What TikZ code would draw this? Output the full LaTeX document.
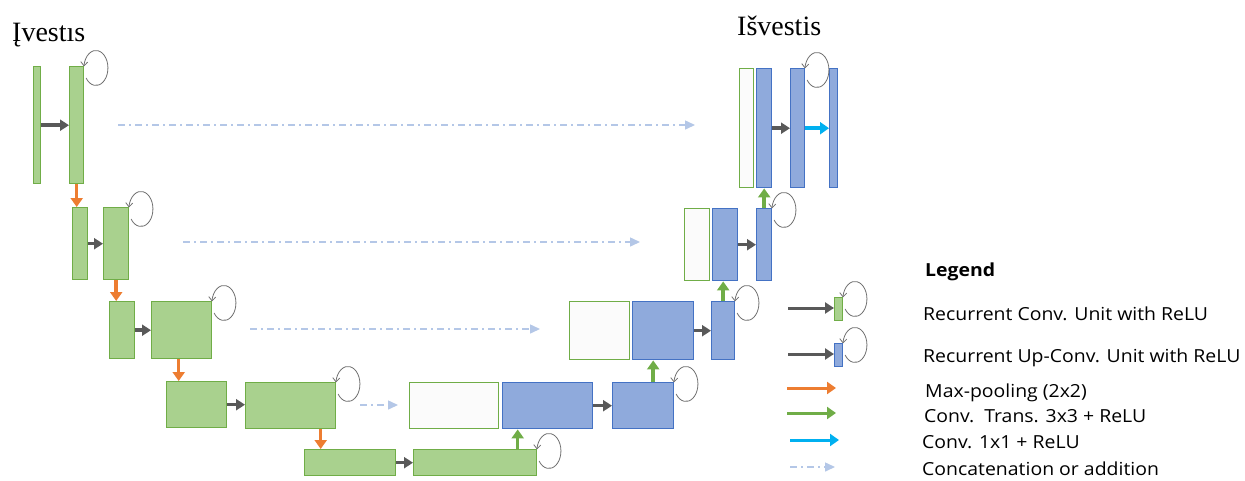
\documentclass[tikz,border=0pt]{standalone}
\usepackage{fontspec}
\setmainfont{Liberation Serif}
\newfontfamily\legfont[FakeStretch=1.08]{Open Sans}
\usetikzlibrary{arrows.meta}

\definecolor{encfill}{HTML}{A9D18E}
\definecolor{encline}{HTML}{70AD47}
\definecolor{decfill}{HTML}{8FAADC}
\definecolor{decline}{HTML}{4472C4}
\definecolor{copyfill}{HTML}{FBFBFB}
\definecolor{poolc}{HTML}{ED7D31}
\definecolor{upc}{HTML}{70AD47}
\definecolor{onec}{HTML}{00B0F0}
\definecolor{convc}{HTML}{595959}
\definecolor{skipc}{HTML}{B4C7E7}
\definecolor{loopc}{HTML}{6F6F6F}

\tikzset{
  box/.style={draw, line width=1.4pt, inner sep=0pt, anchor=north west},
  enc/.style={box, fill=encfill, draw=encline},
  dec/.style={box, fill=decfill, draw=decline},
  copyb/.style={box, fill=copyfill, draw=encline},
  conv/.style={draw=convc, line width=3.5pt, -{Triangle[length=9pt,width=11pt]}},
  pool/.style={draw=poolc, line width=3.5pt, -{Triangle[length=9pt,width=12pt]}},
  upconv/.style={draw=upc, line width=3.5pt, -{Triangle[length=9pt,width=12pt]}},
  onebyone/.style={draw=onec, line width=3.5pt, -{Triangle[length=9pt,width=12pt]}},
  skip/.style={draw=skipc, line width=1.5pt, dash pattern=on 7pt off 4pt on 2pt off 4pt,
    -{Triangle[length=10pt,width=9pt]}},
  rloop/.style={draw=loopc, line width=0.8pt, -{Straight Barb[length=4pt,width=7pt]}},
  title/.style={anchor=base west, inner sep=0pt, font=\fontsize{28pt}{32pt}\selectfont},
  legtxt/.style={anchor=base west, inner sep=0pt, font=\legfont\fontsize{18pt}{21pt}\selectfont},
}

% recurrent self-loop at the top right corner of a block
\newcommand\selfloop[1]{%
  \draw[rloop] ([shift={(1.7pt,-12pt)}]#1.north east)
    arc[start angle=215, end angle=535, x radius=12pt, y radius=17.5pt];}

\begin{document}
\begin{tikzpicture}[x=1pt, y=1pt]
\useasboundingbox (0,0) rectangle (1245,-480);

% titles
\node[title] (inlab) at (12,-41) {Įvestıs};
\node[title] (outlab) at (737,-35) {Išvestis};

% encoder blocks
\node[enc, minimum width=7pt,   minimum height=117pt] (e1a) at (33,-66) {};
\node[enc, minimum width=14pt,  minimum height=117pt] (e1b) at (69,-66) {};
\node[enc, minimum width=15pt,  minimum height=72pt]  (e2a) at (72,-207) {};
\node[enc, minimum width=25pt,  minimum height=72pt]  (e2b) at (103,-207) {};
\node[enc, minimum width=25pt,  minimum height=57pt]  (e3a) at (109,-301) {};
\node[enc, minimum width=60pt,  minimum height=57pt]  (e3b) at (151,-301) {};
\node[enc, minimum width=60pt,  minimum height=46pt]  (e4a) at (166,-381) {};
\node[enc, minimum width=90pt,  minimum height=46pt]  (e4b) at (245,-382) {};
\node[enc, minimum width=91pt,  minimum height=26pt]  (e5a) at (304,-449) {};
\node[enc, minimum width=123pt, minimum height=26pt]  (e5b) at (413,-449) {};

% decoder blocks
\node[copyb, minimum width=89pt, minimum height=46pt] (w4)  at (409,-382) {};
\node[dec,   minimum width=90pt, minimum height=46pt] (d4a) at (502,-382) {};
\node[dec,   minimum width=61pt, minimum height=46pt] (d4b) at (612,-382) {};
\node[copyb, minimum width=60pt, minimum height=58pt] (w3)  at (569,-301) {};
\node[dec,   minimum width=61pt, minimum height=58pt] (d3a) at (632,-301) {};
\node[dec,   minimum width=23pt, minimum height=58pt] (d3b) at (711,-301) {};
\node[copyb, minimum width=25pt, minimum height=72pt] (w2)  at (684,-208) {};
\node[dec,   minimum width=25pt, minimum height=72pt] (d2a) at (712,-208) {};
\node[dec,   minimum width=15pt, minimum height=72pt] (d2b) at (756,-208) {};
\node[copyb, minimum width=14pt, minimum height=119pt] (w1)  at (739,-68) {};
\node[dec,   minimum width=15pt, minimum height=119pt] (d1a) at (756,-68) {};
\node[dec,   minimum width=14pt, minimum height=119pt] (d1b) at (790,-68) {};
\node[dec,   minimum width=8pt,  minimum height=119pt] (out) at (829,-68) {};

% convolutions inside each level
\draw[conv] (e1a.east) -- (e1a.east -| e1b.west);
\draw[conv] (e2a.east) -- (e2a.east -| e2b.west);
\draw[conv] (e3a.east) -- (e3a.east -| e3b.west);
\draw[conv] (e4a.east) -- (e4a.east -| e4b.west);
\draw[conv] (e5a.east) -- (e5a.east -| e5b.west);
\draw[conv] (d4a.east) -- (d4a.east -| d4b.west);
\draw[conv] (d3a.east) -- (d3a.east -| d3b.west);
\draw[conv] (d2a.east) -- (d2a.east -| d2b.west);
\draw[conv] (d1a.east) -- (d1a.east -| d1b.west);
\draw[onebyone] (d1b.east) -- (d1b.east -| out.west);

% max-pooling
\draw[pool] (e1b.south) -- (e1b.south |- e2a.north);
\draw[pool] (e2b.south) -- (e2b.south |- e3a.north);
\draw[pool] ([xshift=-3pt]e3b.south) -- ([xshift=-3pt]e3b.south |- e4a.north);
\draw[pool] ([xshift=30pt]e4b.south) -- ([xshift=30pt]e4b.south |- e5a.north);

% transposed convolutions
\draw[upconv] ([xshift=-30pt]d4a.south |- e5b.north) -- ([xshift=-30pt]d4a.south);
\draw[upconv] ([xshift=10pt]d4b.north) -- ([xshift=10pt]d4b.north |- d3a.south);
\draw[upconv] (d3b.north) -- (d3b.north |- d2a.south);
\draw[upconv] (d2b.north) -- (d2b.north |- d1a.south);

% skip connections
\coordinate (s1) at (118,-125); \coordinate (t1) at (695,-125);
\coordinate (s2) at (183,-242); \coordinate (t2) at (640,-242);
\coordinate (s3) at (250,-329); \coordinate (t3) at (540,-329);
\coordinate (s4) at (360,-405); \coordinate (t4) at (398,-405);
\draw[skip] (s1) -- (t1);
\draw[skip] (s2) -- (t2);
\draw[skip] (s3) -- (t3);
\draw[skip] (s4) -- (t4);

% recurrent loops
\selfloop{e1b}
\selfloop{e2b}
\selfloop{e3b}
\selfloop{e4b}
\selfloop{e5b}
\selfloop{d4b}
\selfloop{d3b}
\selfloop{d2b}
\selfloop{d1b}

% legend
\node[legtxt, font=\legfont\bfseries\fontsize{18pt}{21pt}\selectfont] (leghead) at (925,-276) {Legend};
\node[enc, minimum width=8pt, minimum height=23pt] (lg1) at (834,-297) {};
\node[dec, minimum width=8pt, minimum height=23pt] (lg2) at (834,-343) {};
\coordinate (la1) at (788,-308);
\coordinate (la2) at (788,-354);
\draw[conv, line width=3pt] (la1) -- (la1 -| lg1.west);
\draw[conv, line width=3pt] (la2) -- (la2 -| lg2.west);
\selfloop{lg1}
\selfloop{lg2}
\coordinate (lp1) at (787,-388); \coordinate (lp2) at (836,-388);
\coordinate (lu1) at (787,-413); \coordinate (lu2) at (836,-413);
\coordinate (lo1) at (790,-440); \coordinate (lo2) at (839,-440);
\coordinate (ls1) at (790,-467); \coordinate (ls2) at (835,-467);
\draw[pool, line width=3pt] (lp1) -- (lp2);
\draw[upconv, line width=3pt] (lu1) -- (lu2);
\draw[onebyone, line width=3pt] (lo1) -- (lo2);
\draw[skip] (ls1) -- (ls2);

\node[legtxt] (lt1) at (923,-320) {Recurrent Conv. Unit with ReLU};
\node[legtxt] (lt2) at (923,-362) {Recurrent Up-Conv. Unit with ReLU};
\node[legtxt] (lt3) at (925,-397) {Max-pooling (2x2)};
\node[legtxt] (lt4) at (924,-422) {Conv.\ \ Trans. 3x3 + ReLU};
\node[legtxt] (lt5) at (922,-448) {Conv. 1x1 + ReLU};
\node[legtxt] (lt6) at (922,-475) {Concatenation or addition};
\end{tikzpicture}
\end{document}
